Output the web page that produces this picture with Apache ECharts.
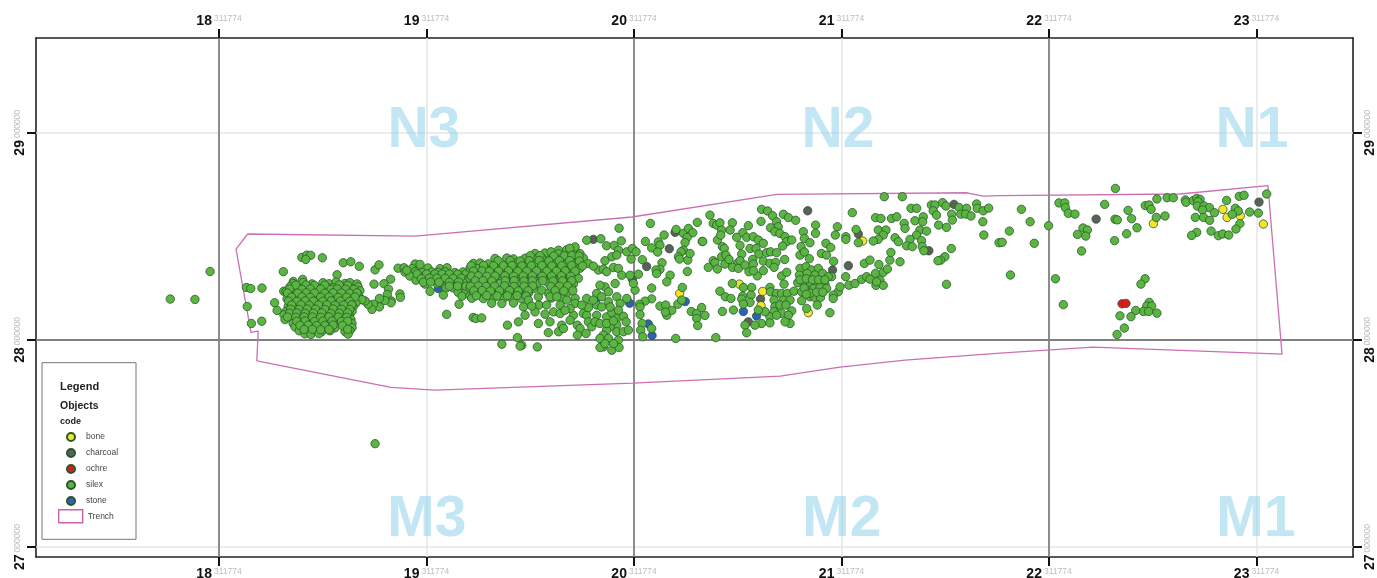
<!DOCTYPE html>
<html><head><meta charset="utf-8">
<style>html,body{margin:0;padding:0;background:#fff}#c{width:1377px;height:578px}</style>
<script src="https://cdn.jsdelivr.net/npm/echarts@6/dist/echarts.min.js"></script>
</head><body><div id="c"></div>
<script>
const xTicks=[18,19,20,21,22,23];
const yTicks=[27,28,29];
const xSuffix='311774';
const ySuffix='000000';
const gridDarkX=[18,20,22];
const gridLightX=[19,21,23];
const gridDarkY=[28];
const gridLightY=[27,29];
const zones=[['N3',18.987,29.006],['N2',20.983,29.008],['N1',22.978,29.006],['M3',19.002,27.129],['M2',21.002,27.129],['M1',22.997,27.129]];
const trench=[[18.138,28.511],[18.082,28.438],[18.154,28.036],[18.189,28.042],[18.182,27.899],[18.829,27.771],[19.041,27.757],[19.995,27.791],[20.704,27.825],[20.993,27.868],[21.306,27.902],[21.764,27.936],[22.212,27.965],[23.123,27.931],[23.055,28.744],[22.631,28.704],[21.764,28.696],[21.682,28.694],[21.605,28.710],[20.689,28.702],[19.990,28.593],[18.945,28.501],[18.138,28.511]];
const bone=[[20.220,28.224],[21.102,28.477],[20.508,28.269],[20.620,28.234],[20.612,28.165],[20.840,28.131],[22.503,28.561],[22.838,28.630],[22.858,28.591],[22.922,28.599],[23.033,28.559]];
const charcoal=[[19.804,28.485],[20.170,28.440],[20.061,28.354],[19.992,28.293],[20.198,28.519],[20.837,28.623],[21.081,28.511],[21.033,28.358],[20.957,28.337],[21.421,28.430],[21.542,28.654],[20.610,28.197],[20.551,28.087],[22.227,28.583],[23.012,28.665]];
const ochre=[[22.352,28.174],[22.371,28.176]];
const stone=[[19.979,28.177],[20.247,28.185],[20.069,28.077],[20.087,28.021],[19.057,28.248],[19.820,28.200],[20.527,28.137],[20.591,28.115]];
const silexWest=[[17.765,28.197],[17.884,28.195],[17.957,28.330],[18.132,28.253],[18.153,28.248],[18.207,28.250],[18.136,28.161],[18.156,28.079],[18.206,28.090],[18.268,28.179],[18.280,28.142],[18.310,28.329],[18.312,28.235],[18.399,28.398],[18.423,28.409],[18.442,28.408],[18.418,28.388],[18.498,28.396],[18.599,28.372],[18.635,28.377],[18.676,28.355],[18.569,28.314],[18.358,28.282],[18.403,28.292],[18.752,28.338],[18.771,28.362],[18.827,28.293],[18.747,28.269],[18.795,28.271],[18.817,28.245],[18.811,28.219],[18.872,28.222],[18.874,28.205],[18.830,28.188],[18.829,28.179],[18.799,28.190],[18.773,28.200],[18.773,28.159],[18.744,28.172],[18.737,28.147],[18.718,28.172],[18.704,28.188],[18.686,28.195],[18.752,27.499]];
const silexCluster=[[18.357,28.272],[18.405,28.277],[18.448,28.270],[18.501,28.276],[18.530,28.271],[18.564,28.279],[18.607,28.272],[18.631,28.276],[18.665,28.270],
[18.342,28.257],[18.381,28.252],[18.424,28.258],[18.467,28.253],[18.516,28.258],[18.549,28.252],[18.593,28.257],[18.626,28.251],[18.670,28.256],
[18.323,28.233],[18.361,28.238],[18.400,28.232],[18.443,28.237],[18.487,28.231],[18.530,28.238],[18.569,28.233],[18.607,28.238],[18.646,28.232],[18.679,28.237],
[18.337,28.218],[18.376,28.213],[18.419,28.219],[18.463,28.214],[18.506,28.218],[18.549,28.213],[18.588,28.219],[18.631,28.214],[18.670,28.218],
[18.328,28.198],[18.357,28.194],[18.395,28.200],[18.439,28.195],[18.482,28.199],[18.525,28.194],[18.569,28.200],[18.607,28.195],[18.651,28.199],[18.689,28.194],
[18.342,28.178],[18.381,28.175],[18.419,28.180],[18.463,28.174],[18.506,28.179],[18.545,28.175],[18.588,28.180],[18.626,28.174],[18.660,28.178],
[18.333,28.160],[18.366,28.155],[18.405,28.161],[18.443,28.156],[18.487,28.160],[18.530,28.155],[18.573,28.161],[18.612,28.156],[18.646,28.159],
[18.323,28.137],[18.357,28.142],[18.395,28.136],[18.434,28.141],[18.477,28.137],[18.516,28.142],[18.559,28.136],[18.602,28.141],[18.641,28.137],
[18.313,28.121],[18.347,28.116],[18.386,28.122],[18.424,28.117],[18.467,28.121],[18.506,28.116],[18.549,28.122],[18.593,28.117],[18.626,28.120],
[18.318,28.098],[18.357,28.103],[18.395,28.097],[18.439,28.102],[18.482,28.098],[18.520,28.103],[18.564,28.097],[18.602,28.102],[18.636,28.098],
[18.357,28.079],[18.381,28.084],[18.414,28.078],[18.453,28.083],[18.496,28.079],[18.535,28.084],[18.578,28.078],[18.612,28.083],[18.641,28.079],
[18.366,28.063],[18.400,28.058],[18.439,28.064],[18.477,28.059],[18.516,28.063],[18.559,28.058],[18.607,28.062],[18.641,28.059],
[18.386,28.044],[18.419,28.040],[18.458,28.045],[18.496,28.040],[18.535,28.044],[18.607,28.040],[18.631,28.045],
[18.414,28.029],[18.443,28.026],[18.482,28.030],[18.622,28.028]];
const silexClusterDense=[[18.37,28.264],[18.42,28.265],[18.46,28.263],[18.51,28.264],[18.58,28.265],[18.62,28.263],
[18.34,28.245],[18.40,28.244],[18.44,28.246],[18.49,28.245],[18.54,28.244],[18.57,28.246],[18.61,28.245],[18.65,28.244],
[18.33,28.226],[18.38,28.225],[18.42,28.227],[18.46,28.226],[18.51,28.225],[18.55,28.227],[18.59,28.226],[18.63,28.225],[18.665,28.227],
[18.35,28.206],[18.40,28.207],[18.44,28.205],[18.49,28.206],[18.53,28.207],[18.575,28.205],[18.615,28.206],[18.655,28.207],
[18.335,28.187],[18.375,28.186],[18.415,28.188],[18.455,28.187],[18.50,28.186],[18.54,28.188],[18.585,28.187],[18.63,28.186],
[18.35,28.168],[18.395,28.169],[18.435,28.167],[18.48,28.168],[18.52,28.169],[18.56,28.167],[18.60,28.168],[18.64,28.169],
[18.345,28.148],[18.385,28.147],[18.425,28.149],[18.465,28.148],[18.51,28.147],[18.55,28.149],[18.59,28.148],[18.63,28.147],
[18.34,28.129],[18.375,28.130],[18.415,28.128],[18.455,28.129],[18.495,28.130],[18.54,28.128],[18.58,28.129],[18.62,28.130],
[18.33,28.110],[18.37,28.109],[18.41,28.111],[18.45,28.110],[18.49,28.109],[18.53,28.111],[18.575,28.110],[18.615,28.109],
[18.375,28.090],[18.415,28.091],[18.46,28.089],[18.50,28.090],[18.545,28.091],[18.59,28.089],[18.62,28.090],
[18.39,28.070],[18.43,28.071],[18.47,28.069],[18.51,28.070],[18.55,28.071],[18.595,28.069],
[18.41,28.050],[18.45,28.051],[18.49,28.049],[18.53,28.050],[18.62,28.051]];
const silexBandWest=[[18.945,28.366],[18.969,28.364],[18.863,28.346],[18.892,28.348],[18.930,28.344],[19.007,28.347],[19.065,28.344],[19.099,28.348],
[18.896,28.327],[18.945,28.329],[18.978,28.325],[19.026,28.328],[19.055,28.326],[19.089,28.329],[19.137,28.325],[19.176,28.328],
[18.920,28.308],[18.969,28.306],[19.007,28.309],[19.046,28.307],[19.084,28.310],[19.123,28.306],[19.161,28.309],[19.200,28.307],
[18.949,28.288],[18.993,28.290],[19.031,28.287],[19.070,28.289],[19.108,28.286],[19.147,28.290],[19.185,28.288],
[18.993,28.269],[19.051,28.271],[19.099,28.268],[19.137,28.270],[19.176,28.267],[19.017,28.234],[19.094,28.250],[19.128,28.251],[19.166,28.248],[19.200,28.250],
[19.152,28.230],[19.190,28.232],[19.171,28.211],[19.210,28.213],[19.081,28.216],[19.157,28.172],[19.097,28.123],[19.225,28.108],[19.238,28.103],[19.266,28.106],
[18.905,28.336],[18.955,28.318],[19.000,28.318],[19.040,28.318],[19.075,28.318],[19.110,28.318],[19.150,28.317],[19.190,28.318],[18.975,28.296],[19.015,28.298],[19.050,28.298],[19.090,28.297],[19.128,28.297],[19.168,28.298],[19.205,28.297],[18.985,28.278],[19.020,28.279],[19.060,28.278],[19.110,28.278],[19.155,28.279],[19.195,28.278],[19.110,28.259],[19.150,28.260],[19.190,28.259]];
const silexBand=[[19.636,28.433],[19.676,28.435],[19.716,28.431],[19.523,28.417],[19.571,28.419],[19.636,28.415],[19.692,28.418],[19.740,28.416],
[19.330,28.393],[19.387,28.395],[19.419,28.391],[19.475,28.394],[19.515,28.392],[19.555,28.395],[19.603,28.391],[19.652,28.394],[19.708,28.392],[19.756,28.395],
[19.226,28.369],[19.258,28.371],[19.298,28.367],[19.347,28.370],[19.395,28.368],[19.435,28.371],[19.483,28.367],[19.531,28.370],[19.579,28.368],[19.628,28.371],[19.676,28.367],[19.724,28.370],[19.780,28.368],
[19.210,28.346],[19.242,28.344],[19.282,28.347],[19.322,28.345],[19.371,28.346],[19.419,28.343],[19.459,28.346],[19.507,28.344],[19.555,28.347],[19.603,28.345],[19.644,28.346],[19.692,28.343],[19.740,28.346],
[19.229,28.321],[19.266,28.319],[19.306,28.322],[19.355,28.320],[19.395,28.321],[19.443,28.318],[19.483,28.321],[19.531,28.319],[19.579,28.322],[19.624,28.320],[19.668,28.321],[19.716,28.319],
[19.210,28.297],[19.250,28.295],[19.290,28.298],[19.330,28.296],[19.379,28.297],[19.419,28.294],[19.467,28.297],[19.507,28.295],[19.555,28.298],[19.603,28.296],[19.644,28.297],[19.692,28.294],[19.732,28.297],
[19.226,28.273],[19.266,28.271],[19.306,28.274],[19.355,28.272],[19.403,28.273],[19.443,28.270],[19.491,28.273],[19.531,28.271],[19.587,28.274],[19.631,28.272],[19.676,28.273],[19.708,28.270],
[19.210,28.249],[19.245,28.247],[19.287,28.250],[19.330,28.248],[19.379,28.249],[19.419,28.246],[19.467,28.249],[19.515,28.247],[19.612,28.250],[19.660,28.248],[19.700,28.249],
[19.226,28.225],[19.266,28.223],[19.310,28.226],[19.355,28.224],[19.403,28.225],[19.443,28.222],[19.491,28.225],[19.587,28.226],[19.636,28.224],[19.676,28.225],
[19.218,28.201],[19.274,28.199],[19.322,28.202],[19.371,28.200],[19.411,28.201],[19.459,28.198],[19.603,28.202],[19.652,28.200],[19.716,28.201],
[19.314,28.177],[19.363,28.175],[19.419,28.178]];
const silexBandDense=[[19.716,28.449],[19.690,28.442],[19.600,28.425],
[19.500,28.406],[19.547,28.407],[19.613,28.405],[19.664,28.406],[19.700,28.407],[19.735,28.405],
[19.345,28.382],[19.403,28.383],[19.451,28.381],[19.495,28.382],[19.543,28.383],[19.590,28.381],[19.640,28.382],[19.690,28.383],[19.737,28.381],
[19.215,28.358],[19.275,28.359],[19.323,28.357],[19.370,28.358],[19.412,28.359],[19.460,28.357],[19.505,28.358],[19.556,28.359],[19.604,28.357],[19.652,28.358],[19.700,28.359],[19.752,28.357],
[19.226,28.332],[19.268,28.333],[19.303,28.331],[19.347,28.332],[19.395,28.333],[19.440,28.331],[19.483,28.332],[19.530,28.333],[19.580,28.331],[19.626,28.332],[19.668,28.333],[19.716,28.331],
[19.217,28.308],[19.250,28.309],[19.290,28.307],[19.330,28.308],[19.378,28.309],[19.420,28.307],[19.466,28.308],[19.510,28.309],[19.557,28.307],[19.603,28.308],[19.650,28.309],[19.695,28.307],
[19.235,28.285],[19.272,28.286],[19.315,28.284],[19.380,28.285],[19.422,28.286],[19.470,28.284],[19.510,28.285],[19.560,28.286],[19.610,28.284],[19.655,28.285],[19.700,28.286],
[19.212,28.259],[19.250,28.260],[19.287,28.258],[19.328,28.259],[19.376,28.260],[19.422,28.258],[19.470,28.259],[19.512,28.260],[19.600,28.258],[19.640,28.259],[19.680,28.260],
[19.228,28.237],[19.268,28.238],[19.308,28.236],[19.352,28.237],[19.400,28.238],[19.442,28.236],[19.490,28.237],[19.620,28.238],[19.662,28.236],[19.705,28.237],
[19.240,28.213],[19.290,28.214],[19.340,28.212],[19.390,28.213],[19.437,28.214],[19.480,28.212]];
const silexLower=[[19.539,28.208],[19.467,28.159],[19.475,28.119],[19.443,28.087],[19.390,28.071],[19.542,28.168],[19.523,28.135],[19.539,28.079],[19.595,28.087],[19.587,28.035],[19.636,28.039],[19.652,28.071],[19.660,28.055],[19.708,28.119],[19.692,28.095],[19.727,28.071],[19.740,28.055],[19.727,28.023],[19.769,28.031],[19.756,28.127],[19.772,28.119],[19.780,28.087],[19.796,28.063],[19.820,28.119],[19.812,28.087],[19.836,28.079],[19.868,28.111],[19.893,28.132],[19.917,28.103],[19.949,28.114],[19.962,28.087],[19.917,28.071],[19.885,28.063],[19.868,28.047],[19.852,28.023],[19.836,28.007],[19.877,28.007],[19.925,27.999],[19.917,28.039],[19.949,28.039],[19.973,28.047],[19.852,27.966],[19.836,27.963],[19.893,27.950],[19.928,27.963],[19.901,27.982],[19.860,27.982],[19.363,27.979],[19.438,28.011],[19.459,27.974],[19.451,27.970],[19.534,27.966],[19.820,28.168],[19.844,28.159],[19.877,28.184],[19.917,28.208],[19.933,28.176],[19.965,28.200],[19.925,28.143],[19.885,28.159],[19.860,28.256],[19.836,28.264],[19.877,28.232],[19.909,28.272],[19.820,28.224],[19.772,28.200],[19.804,28.192],[19.844,28.208],[19.716,28.176],[19.676,28.192],[19.644,28.168],[19.612,28.135],[19.644,28.127],[19.579,28.168],[19.595,28.208],[19.491,28.192],[19.555,28.240],[19.868,28.079],[19.901,28.092],[19.780,28.156],[19.748,28.168],[19.692,28.151],[19.628,28.208],[19.571,28.124],[19.507,28.163],[19.668,28.143]];
const silexCentreWest=[[19.928,28.539],[19.772,28.481],[19.840,28.488],[19.868,28.454],[19.904,28.456],[19.939,28.478],[19.925,28.433],[19.965,28.425],[19.992,28.441],[20.010,28.425],[19.986,28.390],[19.893,28.401],[19.860,28.382],[19.917,28.409],[19.828,28.337],[19.804,28.356],[19.852,28.341],[19.868,28.329],[19.901,28.349],[19.925,28.345],[19.941,28.312],[20.021,28.317],[20.005,28.240],[19.997,28.272],[19.981,28.312],[20.040,28.387],[20.055,28.475],[20.079,28.562],[20.085,28.444],[20.117,28.473],[20.125,28.457],[20.114,28.424],[20.145,28.506],[20.203,28.533],[20.238,28.514],[20.262,28.538],[20.283,28.517],[20.256,28.494],[20.246,28.470],[20.305,28.567],[20.329,28.475],[20.238,28.433],[20.227,28.425],[20.214,28.401],[20.219,28.390],[20.259,28.385],[20.270,28.417],[20.135,28.372],[20.125,28.340],[20.106,28.337],[20.109,28.320],[20.174,28.312],[20.158,28.280],[20.257,28.330],[20.085,28.250],[20.233,28.253],[20.211,28.172],[20.230,28.192],[20.085,28.198],[20.053,28.187],[20.026,28.172],[20.029,28.159],[20.125,28.163],[20.153,28.168],[20.158,28.119],[20.182,28.142],[20.151,28.134],[20.276,28.137],[20.302,28.127],[20.326,28.156],[20.342,28.118],[20.302,28.103],[20.307,28.069],[20.029,28.122],[20.039,28.079],[20.032,28.047],[20.085,28.055],[20.042,28.015],[20.201,28.007],[20.394,28.011]];
const silexCentre=[[20.366,28.602],[20.382,28.562],[20.398,28.554],[20.414,28.565],[20.474,28.565],[20.551,28.551],[20.422,28.530],[20.463,28.530],[20.402,28.482],[20.331,28.475],[20.418,28.506],[20.615,28.630],[20.644,28.622],[20.668,28.599],[20.720,28.606],[20.744,28.590],[20.779,28.577],[20.612,28.572],[20.687,28.570],[20.695,28.546],[20.658,28.541],[20.679,28.522],[20.703,28.514],[20.728,28.498],[20.736,28.474],[20.760,28.482],[20.716,28.453],[20.524,28.517],[20.495,28.495],[20.543,28.495],[20.575,28.498],[20.599,28.482],[20.623,28.466],[20.511,28.456],[20.426,28.450],[20.435,28.441],[20.559,28.441],[20.588,28.441],[20.602,28.414],[20.639,28.421],[20.658,28.425],[20.687,28.421],[20.519,28.414],[20.422,28.401],[20.443,28.409],[20.382,28.382],[20.390,28.372],[20.438,28.366],[20.458,28.388],[20.498,28.369],[20.572,28.388],[20.511,28.382],[20.623,28.380],[20.655,28.369],[20.683,28.374],[20.726,28.388],[20.358,28.350],[20.402,28.342],[20.475,28.350],[20.503,28.345],[20.535,28.361],[20.575,28.366],[20.554,28.329],[20.594,28.309],[20.623,28.334],[20.575,28.334],[20.675,28.350],[20.711,28.308],[20.736,28.326],[20.723,28.269],[20.474,28.272],[20.414,28.235],[20.527,28.253],[20.567,28.253],[20.524,28.211],[20.440,28.208],[20.467,28.200],[20.564,28.216],[20.519,28.197],[20.559,28.181],[20.527,28.173],[20.655,28.253],[20.658,28.232],[20.687,28.224],[20.711,28.224],[20.739,28.224],[20.771,28.235],[20.675,28.192],[20.720,28.192],[20.752,28.192],[20.679,28.160],[20.703,28.168],[20.732,28.168],[20.760,28.140],[20.675,28.136],[20.711,28.128],[20.655,28.111],[20.631,28.136],[20.599,28.144],[20.615,28.079],[20.583,28.071],[20.535,28.071],[20.543,28.034],[20.479,28.144],[20.426,28.137],[20.655,28.082],[20.687,28.119],[20.744,28.119],[20.752,28.079],[20.728,28.087]];
const silexCentreEast=[[20.816,28.522],[20.821,28.490],[20.875,28.554],[20.875,28.514],[20.848,28.469],[20.805,28.450],[20.800,28.409],[20.821,28.424],[20.845,28.392],[20.903,28.417],[20.928,28.409],[20.925,28.466],[20.948,28.446],[20.962,28.379],[20.980,28.546],[20.970,28.506],[21.021,28.498],[21.021,28.485],[20.800,28.345],[20.829,28.353],[20.856,28.337],[20.888,28.345],[20.797,28.313],[20.835,28.321],[20.872,28.313],[20.909,28.321],[20.952,28.305],[20.789,28.276],[20.824,28.272],[20.851,28.264],[20.883,28.264],[20.920,28.269],[20.936,28.305],[20.808,28.232],[20.840,28.240],[20.867,28.248],[20.896,28.253],[20.928,28.248],[20.984,28.232],[20.993,28.256],[20.960,28.216],[20.848,28.208],[20.872,28.205],[20.899,28.205],[20.883,28.168],[20.808,28.189],[20.832,28.152],[20.944,28.131],[20.960,28.200],[21.020,28.305],[21.036,28.264],[21.065,28.272],[21.097,28.292],[21.121,28.305],[21.137,28.293],[21.110,28.369],[21.137,28.385],[21.180,28.364],[21.233,28.385],[21.282,28.377],[21.238,28.422],[21.164,28.321],[21.201,28.326],[21.221,28.342],[21.185,28.288],[21.166,28.263],[21.201,28.263],[21.169,28.280],[21.506,28.268],
[20.800,28.290],[20.830,28.295],[20.860,28.290],[20.890,28.290],[20.920,28.290],[20.820,28.250],[20.850,28.225],[20.880,28.230],[20.910,28.230],[20.830,28.220]];
const silexNorth=[[21.052,28.614],[21.164,28.590],[21.190,28.586],[21.241,28.586],[21.266,28.594],[21.070,28.533],[21.177,28.530],[21.214,28.530],[21.201,28.506],[21.177,28.485],[21.153,28.477],[21.081,28.469],[21.258,28.493],[21.274,28.474],[21.302,28.562],[21.306,28.538],[21.335,28.635],[21.362,28.635],[21.354,28.575],[21.394,28.594],[21.391,28.570],[21.378,28.530],[21.410,28.525],[21.362,28.506],[21.330,28.485],[21.314,28.454],[21.341,28.450],[21.386,28.479],[21.389,28.450],[21.397,28.430],[21.529,28.441],[21.498,28.401],[21.478,28.385],[21.465,28.382],[21.433,28.651],[21.450,28.651],[21.442,28.623],[21.458,28.602],[21.487,28.662],[21.503,28.646],[21.531,28.607],[21.534,28.578],[21.506,28.543],[21.468,28.554],[21.567,28.639],[21.603,28.635],[21.575,28.607],[21.598,28.607],[21.624,28.598],[21.651,28.656],[21.654,28.635],[21.683,28.623],[21.709,28.636],[21.681,28.570],[21.686,28.506],[21.206,28.691],[21.293,28.691],[21.759,28.469]];
const silexEast=[[22.320,28.731],[21.867,28.630],[21.909,28.570],[21.809,28.525],[21.774,28.471],[21.929,28.466],[21.998,28.551],[22.048,28.661],[22.076,28.661],[22.079,28.638],[22.093,28.611],[22.125,28.607],[22.164,28.540],[22.185,28.530],[22.137,28.509],[22.177,28.501],[22.157,28.429],[22.268,28.654],[22.381,28.625],[22.398,28.585],[22.318,28.582],[22.329,28.579],[22.424,28.541],[22.374,28.512],[22.316,28.479],[22.464,28.648],[22.482,28.651],[22.492,28.630],[22.520,28.680],[22.569,28.686],[22.599,28.686],[22.517,28.591],[22.559,28.598],[22.657,28.675],[22.660,28.664],[22.695,28.672],[22.712,28.683],[22.728,28.678],[22.718,28.667],[22.715,28.646],[22.747,28.646],[22.773,28.638],[22.740,28.627],[22.797,28.614],[22.705,28.591],[22.745,28.591],[22.774,28.577],[22.856,28.673],[22.917,28.693],[22.940,28.698],[22.898,28.635],[22.912,28.622],[22.883,28.606],[22.967,28.617],[23.009,28.612],[23.049,28.704],[22.920,28.561],[22.901,28.535],[22.781,28.525],[22.712,28.519],[22.687,28.504],[22.816,28.503],[22.837,28.511],[22.866,28.506],[21.814,28.313],[22.031,28.295],[22.069,28.170],[22.463,28.295],[22.443,28.269],[22.483,28.181],[22.471,28.163],[22.495,28.163],[22.455,28.137],[22.480,28.137],[22.520,28.129],[22.418,28.142],[22.395,28.112],[22.342,28.116],[22.363,28.057],[22.328,28.026]];
const silex=[].concat(silexWest,silexCluster,silexClusterDense,silexBandWest,silexBand,silexBandDense,silexLower,silexCentreWest,silexCentre,silexCentreEast,silexNorth,silexEast);

const X0=17.118,X1=23.465,Y0=26.952,Y1=29.457;
const FONT='"Liberation Sans",Arial,sans-serif';
const rich={n:{fontFamily:FONT,fontSize:14,fontWeight:'bold',color:'#111'},g:{fontFamily:FONT,fontSize:8.5,color:'#bdbdbd',verticalAlign:'top',padding:[0,0,0,2]}};
function xAxisOf(pos){return {type:'value',position:pos,min:X0,max:X1,scale:true,
  axisLine:{show:true,onZero:false,lineStyle:{color:'#222',width:1.6}},
  splitLine:{show:false},
  axisTick:{show:true,customValues:xTicks,length:9,lineStyle:{color:'#111',width:2}},
  axisLabel:{show:true,customValues:xTicks,margin:10,formatter:v=>`{n|${v}}{g|${xSuffix}}`,rich:rich,hideOverlap:false}};}
function yAxisOf(pos){return {type:'value',position:pos,min:Y0,max:Y1,scale:true,
  axisLine:{show:true,onZero:false,lineStyle:{color:'#222',width:1.6}},
  splitLine:{show:false},
  axisTick:{show:true,customValues:yTicks,length:9,lineStyle:{color:'#111',width:2}},
  axisLabel:{show:true,customValues:yTicks,rotate:90,margin:pos==='left'?16:17,align:'center',verticalAlign:'middle',formatter:v=>`{n|${v}}{g|${ySuffix}}`,rich:rich,hideOverlap:false}};}
function dots(name,data,color,z){return {type:'scatter',name:name,data:data,symbol:'circle',symbolSize:8.4,z:z,silent:true,
  itemStyle:{color:color,borderColor:'#26592a',borderWidth:0.8,opacity:1}};}
const mk=(key,v,color,w)=>({[key]:v,lineStyle:{color:color,width:w,type:'solid'}});
const option={
  animation:false,backgroundColor:'#fff',
  grid:{left:36,right:24,top:38,bottom:21,containLabel:false,outerBoundsMode:'none'},
  xAxis:[xAxisOf('bottom'),xAxisOf('top')],
  yAxis:[yAxisOf('left'),yAxisOf('right')],
  legend:[
    {left:61,top:427,orient:'vertical',itemWidth:20,itemHeight:8,itemGap:6,data:['bone','charcoal','ochre','silex','stone'],
      textStyle:{fontFamily:FONT,fontSize:8.5,color:'#444'},selectedMode:false,z:20},
    {left:53,top:504,orient:'vertical',itemWidth:24,itemHeight:13,data:[{name:'Trench',icon:'rect',itemStyle:{color:'transparent',borderColor:'#c863ac',borderWidth:1.4}}],
      textStyle:{fontFamily:FONT,fontSize:8.5,color:'#444'},selectedMode:false,z:20}
  ],
  graphic:[
    {type:'rect',shape:{x:42,y:362.7,width:94,height:176.6},style:{fill:'#fff',stroke:'#777',lineWidth:1},z:10,silent:true},
    {type:'text',x:60,y:381.5,style:{text:'Legend',font:'bold 11px '+FONT,fill:'#222'},z:11,silent:true},
    {type:'text',x:60,y:401,style:{text:'Objects',font:'bold 10.5px '+FONT,fill:'#222'},z:11,silent:true},
    {type:'text',x:60,y:417,style:{text:'code',font:'bold 9px '+FONT,fill:'#222'},z:11,silent:true}
  ],
  series:[
    {type:'scatter',name:'grid',data:[],silent:true,z:1,
      markLine:{silent:true,symbol:'none',label:{show:false},animation:false,z:1,
        data:[].concat(
          gridLightX.map(v=>mk('xAxis',v,'#e6e6e6',1.5)),
          gridLightY.map(v=>mk('yAxis',v,'#e6e6e6',1.5)),
          gridDarkX.map(v=>mk('xAxis',v,'#808080',1.8)),
          gridDarkY.map(v=>mk('yAxis',v,'#808080',1.8)))}},
    {type:'scatter',name:'zones',silent:true,z:2,symbolSize:0,
      data:zones.map(z=>({value:[z[1],z[2]],name:z[0]})),
      label:{show:true,position:'inside',formatter:p=>p.name,fontFamily:FONT,fontWeight:'bold',fontSize:57,color:'rgba(150,212,234,0.72)'}},
    {type:'line',name:'Trench',data:trench,symbol:'none',silent:true,z:3,lineStyle:{color:'#cc6fb2',width:1.3},itemStyle:{color:'#cc6fb2'}},
    dots('stone',stone,'#2d62b5',4),
    dots('ochre',ochre,'#e01b1f',5),
    dots('charcoal',charcoal,'#5e5e5e',6),
    dots('bone',bone,'#f6e32b',7),
    dots('silex',silex,'#5cb543',8)
  ]
};
const chart=echarts.init(document.getElementById('c'),null,{renderer:'canvas'});
chart.setOption(option);
</script></body></html>
